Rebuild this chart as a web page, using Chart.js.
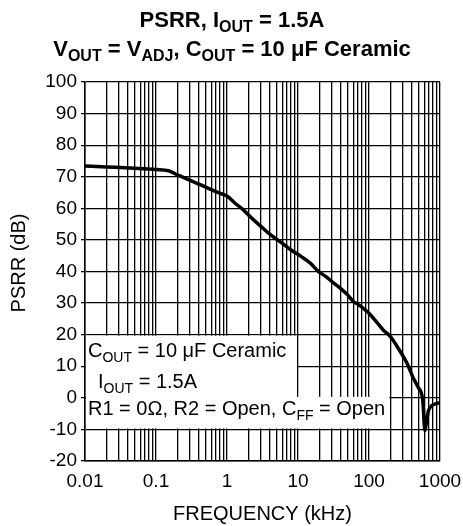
<!DOCTYPE html>
<html>
<head>
<meta charset="utf-8">
<script src="https://cdn.jsdelivr.net/npm/chart.js@4/dist/chart.umd.min.js"></script>
<style>
  html, body { margin: 0; padding: 0; background: #fff; }
  canvas { display: block; }
</style>
</head>
<body>
<canvas id="c" width="463" height="526"></canvas>
<script>
// ---- data ----
const freqKHz = [0.01, 0.02, 0.05, 0.1, 0.15, 0.2, 0.3, 0.42, 0.6, 0.8, 1, 1.3, 1.7, 2.2, 3, 4, 5.7, 8, 11, 15, 19, 25, 30, 40, 50, 60, 70, 85, 100, 130, 160, 200, 260, 340, 420, 490, 570, 615, 650, 690, 760, 900, 1000];
const psrrDb = [73.4, 73.1, 72.7, 72.3, 71.9, 70.6, 68.9, 67.5, 65.9, 64.7, 63.9, 61.6, 59.5, 57.0, 54.3, 51.8, 49.3, 46.8, 44.8, 42.6, 40.2, 38.3, 36.8, 34.6, 32.6, 30.5, 29.6, 28.2, 26.8, 23.8, 21.4, 19.4, 15.6, 11.1, 6.3, 3.4, -0.6, -10.4, -7.0, -4.0, -2.5, -1.8, -1.6];
const xDecades = [0.01, 0.1, 1, 10, 100, 1000];
const xTickLabels = ['0.01', '0.1', '1', '10', '100', '1000'];
const yMin = -20, yMax = 100, yStep = 10;

// annotation box regions in data units (kHz, dB)
const noteUpper = { x0: 0.01, x1: 10, y0: 0, y1: 20 };
const noteLower = { x0: 0.01, x1: 200, y0: -10, y1: 0 };

const FONT = '"Liberation Sans", Arial, Helvetica, sans-serif';

function drawRich(ctx, parts, x, y, align, size, subSize, subDy, bold) {
  const w = bold ? 'bold ' : '';
  let total = 0;
  parts.forEach(p => {
    ctx.font = w + (p.sub ? subSize : size) + 'px ' + FONT;
    p.w = ctx.measureText(p.t).width;
    total += p.w;
  });
  let cx = align === 'center' ? x - total / 2 : x;
  ctx.textAlign = 'left';
  ctx.textBaseline = 'alphabetic';
  ctx.fillStyle = '#000';
  parts.forEach(p => {
    ctx.font = w + (p.sub ? subSize : size) + 'px ' + FONT;
    ctx.fillText(p.t, cx, p.sub ? y + subDy : y);
    cx += p.w;
  });
}

const textPlugin = {
  id: 'texts',
  beforeDatasetsDraw(chart) {
    const ctx = chart.ctx;
    const xs = chart.scales.x, ys = chart.scales.y;
    ctx.save();
    ctx.fillStyle = '#fff';
    let l = xs.getPixelForValue(noteUpper.x0) + 1, r = xs.getPixelForValue(noteUpper.x1) - 1;
    let t = ys.getPixelForValue(noteUpper.y1) + 1, b = ys.getPixelForValue(noteUpper.y0) + 1;
    ctx.fillRect(l, t, r - l, b - t);
    l = xs.getPixelForValue(noteLower.x0) + 1; r = xs.getPixelForValue(noteLower.x1) - 1;
    t = ys.getPixelForValue(noteLower.y1) - 1; b = ys.getPixelForValue(noteLower.y0) - 1;
    ctx.fillRect(l, t, r - l, b - t);

    drawRich(ctx, [{t:'C'},{t:'OUT',sub:true},{t:' = 10 μF Ceramic'}], 88, 357, 'left', 20, 14, 5, false);
    drawRich(ctx, [{t:'I'},{t:'OUT',sub:true},{t:' = 1.5A'}], 98, 388, 'left', 20, 14, 5, false);
    drawRich(ctx, [{t:'R1 = 0Ω, R2 = Open, C'},{t:'FF',sub:true},{t:' = Open'}], 88, 415, 'left', 20, 14, 5, false);
    ctx.restore();
  },
  afterDraw(chart) {
    const ctx = chart.ctx;
    ctx.save();
    drawRich(ctx, [{t:'PSRR, I'},{t:'OUT',sub:true},{t:' = 1.5A'}], 232, 27, 'center', 22, 16, 5, true);
    drawRich(ctx, [{t:'V'},{t:'OUT',sub:true},{t:' = V'},{t:'ADJ',sub:true},{t:', C'},{t:'OUT',sub:true},{t:' = 10 μF Ceramic'}], 232, 56, 'center', 22, 16, 5, true);
    const ca = chart.chartArea;
    drawRich(ctx, [{t:'FREQUENCY (kHz)'}], (ca.left + ca.right) / 2, 520, 'center', 20, 14, 0, false);
    ctx.translate(25, 263);
    ctx.rotate(-Math.PI / 2);
    drawRich(ctx, [{t:'PSRR (dB)'}], 0, 0, 'center', 20, 14, 0, false);
    ctx.restore();
  }
};

new Chart(document.getElementById('c'), {
  type: 'line',
  data: {
    datasets: [{
      data: freqKHz.map((f, i) => ({ x: f, y: psrrDb[i] })),
      borderColor: '#000',
      borderWidth: 3.5,
      pointRadius: 0,
      cubicInterpolationMode: 'monotone',
      fill: false
    }]
  },
  options: {
    responsive: false,
    animation: false,
    devicePixelRatio: 1,
    layout: { padding: { left: 0, right: 23, top: 82, bottom: 0 } },
    plugins: { legend: { display: false }, title: { display: false }, tooltip: { enabled: false } },
    scales: {
      x: {
        type: 'logarithmic',
        min: 0.01, max: 1000,
        afterBuildTicks(scale) {
          const ticks = [];
          for (let d = 0; d < xDecades.length - 1; d++) {
            for (let k = 1; k <= 9; k++) ticks.push({ value: +(xDecades[d] * k).toPrecision(6) });
          }
          ticks.push({ value: xDecades[xDecades.length - 1] });
          scale.ticks = ticks;
        },
        afterFit(scale) { scale.height = 65; scale.paddingLeft = 0; scale.paddingRight = 0; },
        ticks: {
          autoSkip: false, maxRotation: 0, minRotation: 0,
          color: '#000', padding: 9,
          font: { family: FONT, size: 19 },
          callback(value) {
            const i = xDecades.findIndex(d => Math.abs(d - value) / d < 1e-6);
            return i >= 0 ? xTickLabels[i] : '';
          }
        },
        grid: { color: '#000', lineWidth: 1.3, drawTicks: false },
        border: { color: '#000', width: 1.5 }
      },
      y: {
        min: yMin, max: yMax,
        afterFit(scale) { scale.width = 85; scale.paddingTop = 0; scale.paddingBottom = 0; },
        ticks: { stepSize: yStep, color: '#000', padding: 4, font: { family: FONT, size: 19 } },
        grid: { color: '#000', lineWidth: 1.3, tickLength: 4 },
        border: { color: '#000', width: 1.5 }
      }
    }
  },
  plugins: [textPlugin]
});
</script>
</body>
</html>
